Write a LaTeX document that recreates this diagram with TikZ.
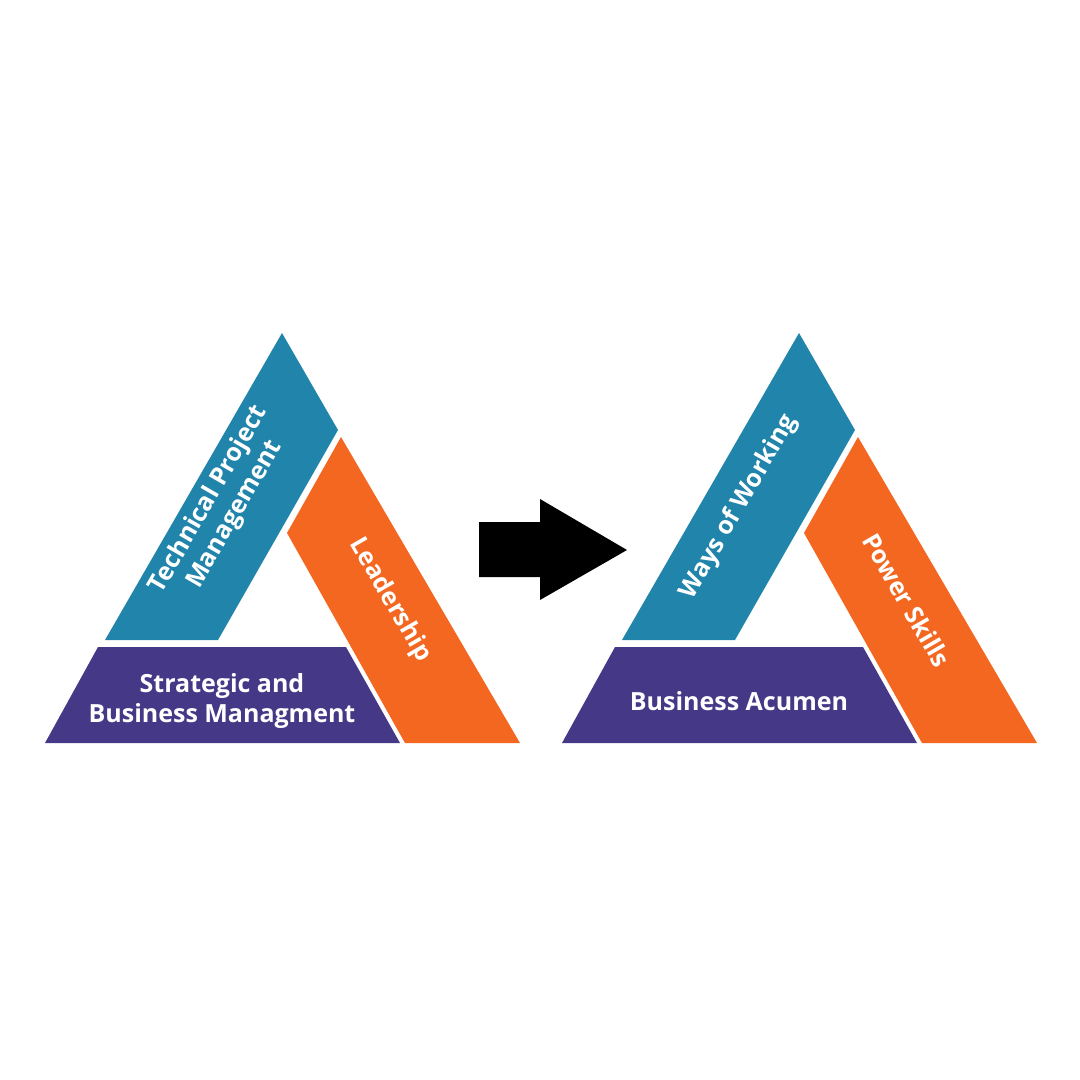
\documentclass[tikz,border=0pt]{standalone}
\usepackage{fontspec}
\setmainfont{Open Sans}
\begin{document}
\begin{tikzpicture}[x=1pt,y=-1pt,
  lbl/.style={text=white,font=\bfseries\fontsize{25}{30}\selectfont,align=center,inner sep=0pt},
  blu/.style={fill={rgb,255:red,33;green,132;blue,170}},
  org/.style={fill={rgb,255:red,244;green,103;blue,33}},
  pur/.style={fill={rgb,255:red,69;green,56;blue,134}}]
\useasboundingbox (0,0) rectangle (1080,1080);
\foreach \o/\ta/\tb/\tc in {0/{Technical Project\\Management}/Leadership/{Strategic and\\Business Managment},517/Ways of Working/Power Skills/Business Acumen}{
  \begin{scope}[xshift=\o]
  \fill[blu] (282,333) -- (338,430) -- (218,640) -- (105,640) -- cycle;
  \fill[org] (341,437) -- (520,743) -- (405,743) -- (287,533) -- cycle;
  \fill[pur] (98,647) -- (346,647) -- (400,743) -- (45,743) -- cycle;
  \node[lbl,rotate=60] (b\o) at (222,507) {\ta};
  \node[lbl,rotate=-60] (o\o) at (390,600) {\tb};
  \node[lbl] (p\o) at (222,701) {\tc};
  \end{scope}}
\fill (479,522) -- (540,522) -- (540,499) -- (627,550) -- (540,600) -- (540,577) -- (479,577) -- cycle;
\end{tikzpicture}
\end{document}
